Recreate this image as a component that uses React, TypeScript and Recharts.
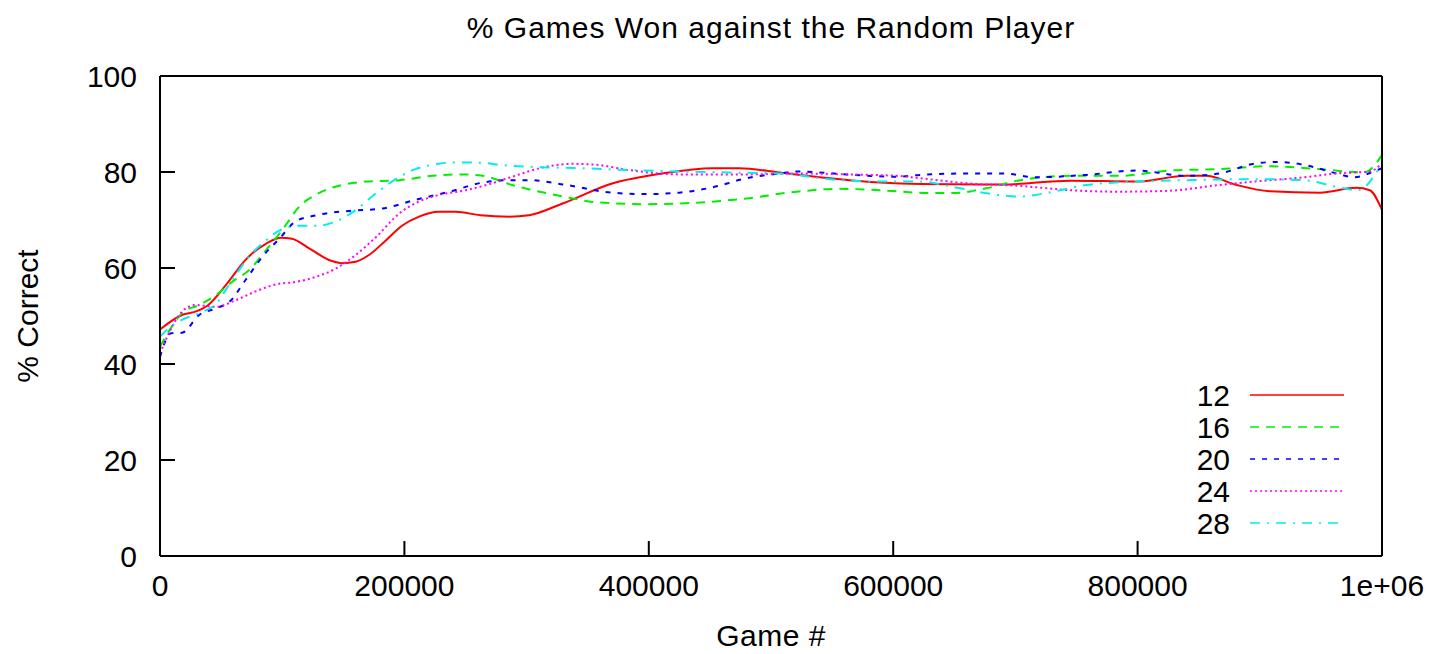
import React from 'react';
import { LineChart, Line, XAxis, YAxis, Legend } from 'recharts';

// smoothed win-rate curves, one per network size
const GAMES_12 = [0, 18000, 29000, 39000, 55000, 70000, 87000, 99000, 108000, 122000, 140000, 149000, 160000, 171000, 185000, 198000, 212000, 228000, 242000, 262000, 286000, 302000, 330000, 370000, 411000, 452000, 474000, 507000, 548000, 589000, 622000, 690000, 745000, 799000, 840000, 856000, 881000, 908000, 949000, 979000, 990000, 1000000];
const WON_12 = [47.2, 50.2, 50.9, 52.2, 56.8, 61.7, 65.1, 66.3, 66.1, 64.1, 61.5, 61.0, 61.3, 62.7, 65.8, 68.8, 70.7, 71.7, 71.7, 71.0, 70.7, 71.0, 73.5, 77.6, 79.7, 80.8, 80.8, 79.9, 78.7, 77.8, 77.5, 77.4, 78.2, 78.0, 79.2, 79.2, 77.3, 76.0, 75.7, 76.7, 76.2, 72.1];

const GAMES_16 = [0, 7000, 18000, 32000, 46000, 59000, 73000, 87000, 100000, 114000, 130000, 149000, 168000, 196000, 223000, 245000, 264000, 288000, 330000, 357000, 398000, 439000, 480000, 521000, 556000, 589000, 630000, 649000, 676000, 704000, 745000, 785000, 826000, 867000, 908000, 949000, 985000, 1000000];
const WON_16 = [43.6, 46.7, 50.6, 52.3, 54.4, 57.1, 59.6, 63.8, 67.9, 72.8, 75.6, 77.3, 78.0, 78.3, 79.2, 79.5, 79.2, 77.3, 74.9, 73.7, 73.3, 73.6, 74.5, 75.9, 76.5, 76.2, 75.6, 75.6, 76.6, 78.3, 79.2, 79.2, 80.3, 80.6, 81.2, 80.6, 79.9, 83.5];

const GAMES_20 = [0, 9000, 18000, 32000, 46000, 57000, 70000, 84000, 98000, 111000, 128000, 155000, 182000, 209000, 237000, 264000, 285000, 302000, 330000, 370000, 398000, 425000, 452000, 480000, 507000, 521000, 562000, 603000, 622000, 663000, 690000, 717000, 758000, 799000, 840000, 867000, 895000, 914000, 936000, 963000, 977000, 996000, 1000000];
const WON_20 = [41.5, 46.4, 46.5, 50.2, 51.6, 53.0, 57.5, 62.4, 66.2, 69.7, 71.0, 71.9, 72.4, 74.2, 75.9, 77.8, 78.3, 78.3, 77.4, 75.7, 75.4, 75.7, 76.8, 78.7, 79.7, 80.1, 79.5, 79.0, 79.4, 79.7, 79.7, 78.9, 79.4, 80.3, 79.2, 79.7, 81.7, 82.1, 81.5, 79.7, 78.9, 80.4, 80.8];

const GAMES_24 = [0, 10000, 18000, 29000, 46000, 62000, 78000, 95000, 111000, 128000, 144000, 160000, 177000, 196000, 209000, 228000, 250000, 270000, 288000, 316000, 338000, 357000, 384000, 425000, 480000, 521000, 562000, 603000, 622000, 663000, 704000, 745000, 785000, 826000, 867000, 895000, 936000, 963000, 990000, 1000000];
const WON_24 = [42.2, 47.8, 50.9, 52.3, 51.9, 53.3, 55.1, 56.6, 57.1, 58.2, 59.9, 62.7, 66.5, 71.4, 73.5, 75.2, 76.2, 77.5, 79.0, 81.1, 81.7, 81.5, 80.4, 79.5, 79.5, 79.7, 79.5, 79.2, 78.7, 77.6, 77.1, 76.2, 75.9, 76.1, 77.3, 78.0, 78.9, 79.7, 80.1, 81.8];

const GAMES_28 = [0, 7000, 18000, 32000, 46000, 59000, 73000, 87000, 100000, 114000, 128000, 144000, 158000, 177000, 196000, 209000, 223000, 242000, 264000, 278000, 302000, 343000, 384000, 425000, 466000, 507000, 548000, 589000, 622000, 649000, 676000, 704000, 731000, 758000, 799000, 840000, 895000, 936000, 963000, 980000, 1000000];
const WON_28 = [45.7, 47.4, 49.2, 50.6, 52.6, 57.5, 62.4, 65.8, 68.1, 68.8, 68.8, 69.7, 71.7, 75.6, 79.0, 80.6, 81.5, 82.0, 81.9, 81.5, 81.1, 80.8, 80.4, 80.1, 79.9, 79.7, 78.5, 78.0, 78.0, 76.9, 75.6, 74.9, 75.9, 77.3, 78.0, 78.3, 78.5, 78.3, 76.9, 76.2, 81.8];

const X_TICKS = [0, 200000, 400000, 600000, 800000, 1000000];
const Y_TICKS = [0, 20, 40, 60, 80, 100];

const FONT = '"Liberation Sans", Arial, Helvetica, sans-serif';
const FONT_SIZE = 30;

const toRows = (xs: number[], ys: number[]) => xs.map((x, i) => ({ game: x, won: ys[i] }));

const series = [
  { name: '12', color: '#ff0000', dash: undefined, rows: toRows(GAMES_12, WON_12) },
  { name: '16', color: '#00ee00', dash: '9 7', rows: toRows(GAMES_16, WON_16) },
  { name: '20', color: '#0000ff', dash: '5 7', rows: toRows(GAMES_20, WON_20) },
  { name: '24', color: '#ff00ff', dash: '2 3', rows: toRows(GAMES_24, WON_24) },
  { name: '28', color: '#00eeee', dash: '10 7 2 7', rows: toRows(GAMES_28, WON_28) },
];

const formatGame = (v: number) => (v >= 1000000 ? '1e+06' : String(v));

const tickStyle = { fill: '#000', fontSize: FONT_SIZE, fontFamily: FONT };
const frameLine = { stroke: '#000', strokeWidth: 2 };

// rotated y title, sitting to the left of the tick labels
const YTitle = ({ viewBox }: any) => {
  const cx = viewBox.x + 38;
  const cy = viewBox.y + viewBox.height / 2;
  return (
    <text
      x={cx}
      y={cy}
      transform={`rotate(-90, ${cx}, ${cy})`}
      textAnchor="middle"
      fill="#000"
      fontSize={FONT_SIZE}
      fontFamily={FONT}
    >
      % Correct
    </text>
  );
};

const KeyBox = () => (
  <svg width={180} height={165}>
    {series.map((s, i) => {
      const y = 17 + i * 32;
      return (
        <g key={s.name}>
          <text x={50} y={y} dy="0.36em" textAnchor="end" fill="#000" fontSize={FONT_SIZE} fontFamily={FONT}>
            {s.name}
          </text>
          <line x1={70} x2={164} y1={y} y2={y} stroke={s.color} strokeWidth={1.6} strokeDasharray={s.dash} />
        </g>
      );
    })}
  </svg>
);

export default function App() {
  return (
    <div style={{ position: 'absolute', left: 0, top: 0, fontFamily: FONT }}>
      <LineChart width={1439} height={654} margin={{ top: 75, right: 56, bottom: 0, left: 0 }}>
        <XAxis
          dataKey="game"
          type="number"
          domain={[0, 1000000]}
          ticks={X_TICKS}
          tickFormatter={formatGame}
          allowDataOverflow
          height={98}
          tickSize={-15}
          tickMargin={34}
          tick={tickStyle}
          axisLine={frameLine}
          tickLine={frameLine}
          label={{
            value: 'Game #',
            position: 'insideBottom',
            offset: 8,
            fill: '#000',
            fontSize: FONT_SIZE,
            fontFamily: FONT,
            style: { letterSpacing: 0.5 },
          }}
        />
        {/* mirrored top edge: frame line, inward ticks and the title */}
        <XAxis
          xAxisId="top"
          orientation="top"
          dataKey="game"
          type="number"
          domain={[0, 1000000]}
          ticks={X_TICKS}
          allowDataOverflow
          height={1}
          tick={false}
          tickSize={-15}
          axisLine={frameLine}
          tickLine={frameLine}
          label={{
            value: '% Games Won against the Random Player',
            position: 'top',
            offset: 37,
            fill: '#000',
            fontSize: FONT_SIZE,
            fontFamily: FONT,
            style: { letterSpacing: 1 },
          }}
        />
        <YAxis
          type="number"
          domain={[0, 100]}
          ticks={Y_TICKS}
          allowDataOverflow
          width={160}
          tickSize={-15}
          tickMargin={38}
          tick={tickStyle}
          axisLine={frameLine}
          tickLine={frameLine}
          label={<YTitle />}
        />
        {/* mirrored right edge */}
        <YAxis
          yAxisId="right"
          orientation="right"
          type="number"
          domain={[0, 100]}
          ticks={Y_TICKS}
          allowDataOverflow
          width={1}
          tick={false}
          tickSize={-15}
          axisLine={frameLine}
          tickLine={frameLine}
        />
        {series.map((s) => (
          <Line
            key={s.name}
            name={s.name}
            data={s.rows}
            dataKey="won"
            type="monotone"
            stroke={s.color}
            strokeWidth={2}
            strokeDasharray={s.dash}
            dot={false}
            activeDot={false}
            isAnimationActive={false}
          />
        ))}
        <Legend
          layout="vertical"
          align="center"
          verticalAlign="middle"
          content={() => <KeyBox />}
          wrapperStyle={{ left: 1180, top: 378, width: 180 }}
        />
      </LineChart>
    </div>
  );
}
